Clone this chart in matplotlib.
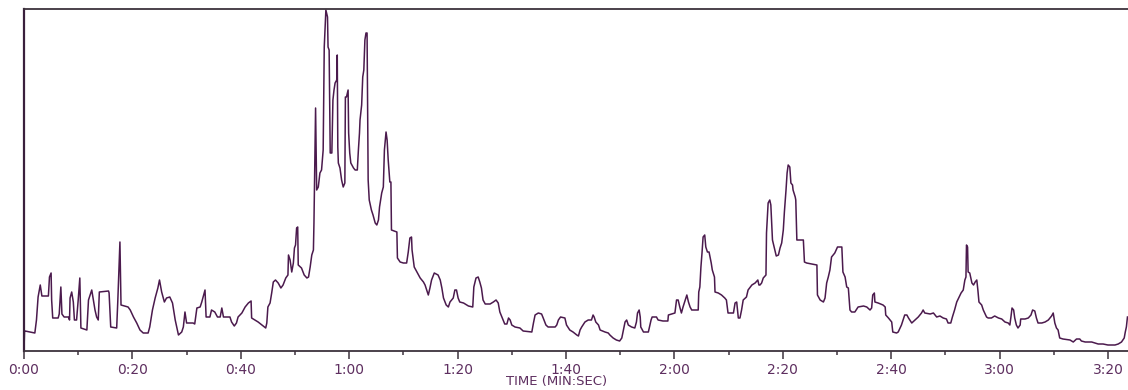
import matplotlib
matplotlib.use('Agg')
import matplotlib.pyplot as plt
from matplotlib.ticker import MultipleLocator, FuncFormatter

# time in seconds, level in arbitrary units
t_sec = [0, 0.1, 0.2, 2.0, 2.3, 2.6, 3.0, 3.3, 4.5, 4.7, 5.0, 5.1, 5.3, 6.3, 6.5, 6.8, 7.0, 7.4, 8.2,
         8.4, 8.5, 8.8, 9.1, 9.3, 9.7, 10.0, 10.3, 10.5, 11.6, 11.9, 12.2, 12.5, 12.8, 13.1, 13.4, 13.7,
         13.9, 15.6, 15.7, 16.0, 17.1, 17.3, 17.7, 17.9, 19.2, 19.6, 20.2, 20.8, 21.4, 22.0, 22.9, 23.2,
         23.7, 24.2, 24.7, 25.0, 25.4, 25.9, 26.3, 26.9, 27.4, 27.9, 28.5, 29.1, 29.4, 29.7, 30.0, 31.2,
         31.5, 31.9, 32.5, 32.8, 33.3, 33.4, 33.6, 34.3, 34.6, 35.2, 35.7, 36.2, 36.5, 36.8, 38.0, 38.3,
         38.8, 39.2, 39.5, 40.2, 40.8, 41.4, 41.9, 42.0, 42.6, 43.2, 43.9, 44.6, 44.8, 45.0, 45.4, 45.7,
         46.0, 46.4, 46.9, 47.4, 47.8, 48.3, 48.7, 48.8, 49.1, 49.4, 49.7, 49.9, 50.1, 50.3, 50.5, 50.6,
         51.2, 51.7, 52.2, 52.5, 52.8, 53.1, 53.4, 53.5, 53.8, 54.0, 54.3, 54.6, 54.9, 55.2, 55.4, 55.7,
         56.0, 56.1, 56.3, 56.5, 56.8, 57.0, 57.2, 57.4, 57.7, 57.8, 57.9, 58.0, 58.3, 58.6, 58.9, 59.2,
         59.3, 59.5, 59.8, 59.9, 60.1, 60.3, 60.8, 61.1, 61.5, 61.7, 61.9, 62.0, 62.3, 62.5, 62.7, 62.9,
         63.1, 63.3, 63.5, 63.7, 64.1, 64.4, 64.8, 65.1, 65.4, 65.6, 66.0, 66.3, 66.5, 66.8, 67.0, 67.2,
         67.5, 67.7, 67.8, 68.8, 68.9, 69.4, 70.0, 70.6, 70.9, 71.2, 71.5, 71.6, 72.0, 72.5, 73.1, 73.7,
         74.0, 74.3, 74.6, 74.9, 75.2, 75.7, 76.4, 76.8, 77.1, 77.4, 77.9, 78.3, 78.6, 79.2, 79.5, 79.8,
         80.1, 80.4, 81.1, 82.0, 82.8, 83.0, 83.4, 83.8, 84.1, 84.4, 84.7, 85.1, 86.0, 86.6, 87.1, 87.5,
         87.8, 88.4, 88.7, 89.1, 89.4, 89.7, 90.0, 90.6, 91.5, 92.1, 93.7, 94.0, 94.3, 94.9, 95.5, 95.8,
         96.3, 96.7, 98.0, 98.3, 98.6, 99.0, 99.8, 100.1, 100.7, 101.3, 102.0, 102.3, 102.6, 102.9, 103.5,
         104.1, 104.7, 105.0, 105.2, 105.5, 106.0, 106.3, 107.2, 107.8, 108.1, 108.7, 109.3, 109.9, 110.3,
         110.6, 110.9, 111.2, 111.5, 112.1, 112.7, 113.0, 113.2, 113.5, 113.7, 113.8, 114.3, 115.2, 115.7,
         115.9, 116.7, 117.0, 117.9, 118.8, 118.9, 120.1, 120.4, 120.7, 121.0, 121.3, 121.6, 122.0, 122.3,
         122.6, 122.9, 123.2, 124.4, 124.5, 124.7, 124.9, 125.1, 125.3, 125.6, 125.8, 126.1, 126.4, 126.8,
         127.0, 127.4, 127.5, 128.1, 128.7, 129.3, 129.6, 129.9, 130.9, 131.2, 131.5, 131.8, 132.1, 132.4,
         132.7, 133.3, 133.6, 134.3, 134.9, 135.4, 135.6, 135.8, 136.1, 136.4, 136.9, 137.0, 137.3, 137.6,
         137.8, 138.1, 138.4, 138.8, 139.2, 139.5, 139.8, 140.1, 140.3, 140.6, 140.8, 141.0, 141.3, 141.5,
         141.8, 141.9, 142.3, 142.4, 142.6, 143.8, 144.0, 144.4, 146.3, 146.4, 146.9, 147.5, 147.8, 148.1,
         148.4, 148.7, 149.0, 149.6, 150.1, 150.9, 151.1, 151.5, 151.8, 152.1, 152.4, 152.7, 153.3, 153.9,
         154.9, 155.5, 156.1, 156.4, 156.6, 156.9, 157.0, 157.6, 158.5, 158.9, 159.0, 159.5, 160.1, 160.3,
         161.0, 161.3, 161.9, 162.2, 162.5, 162.9, 163.2, 163.8, 164.4, 165.0, 165.6, 165.9, 166.2, 167.2,
         167.8, 168.4, 169.0, 169.6, 170.2, 170.5, 171.0, 171.3, 171.7, 172.1, 172.9, 173.3, 173.6, 173.8,
         173.9, 174.1, 174.2, 174.5, 174.9, 175.2, 175.5, 175.8, 176.0, 176.2, 176.7, 177.0, 177.6, 177.9,
         178.5, 179.1, 179.8, 180.4, 181.0, 181.6, 181.9, 182.1, 182.3, 182.6, 182.8, 183.1, 183.4, 183.8,
         183.9, 184.7, 185.3, 185.8, 186.1, 186.5, 186.8, 187.1, 187.8, 188.4, 189.0, 189.6, 189.9, 190.2,
         190.5, 190.8, 191.1, 191.7, 193.0, 193.6, 194.2, 194.8, 195.1, 195.8, 197.0, 197.6, 198.2, 199.1,
         200.0, 201.3, 201.9, 202.5, 203.0, 203.2, 203.4, 203.6]

level = [1, 20, 20, 18, 31, 54, 66, 55, 55, 74, 78, 51, 33, 33, 37, 64, 37, 34, 34,
         31, 53, 59, 49, 31, 31, 51, 73, 23, 21, 51, 56, 61, 51, 41, 34, 31,
         59, 60, 58, 24, 23, 49, 109, 46, 44, 41, 34, 28, 21, 18, 18, 24,
         41, 53, 63, 71, 59, 49, 53, 54, 48, 31, 16, 19, 24, 39, 28, 28,
         27, 43, 44, 49, 59, 61, 34, 34, 41, 39, 34, 34, 43, 34, 34, 29,
         25, 28, 34, 38, 44, 48, 50, 33, 31, 29, 26, 23, 28, 44, 48, 58,
         69, 71, 68, 63, 66, 73, 76, 96, 91, 79, 88, 103, 106, 123, 124, 86,
         83, 76, 73, 74, 84, 96, 101, 128, 243, 161, 164, 178, 181, 201, 304, 341,
         334, 304, 301, 198, 198, 251, 261, 268, 271, 296, 204, 188, 183, 171, 164, 168,
         254, 254, 261, 218, 198, 188, 183, 181, 181, 201, 218, 231, 246, 274, 281, 311,
         318, 318, 171, 151, 141, 136, 128, 126, 131, 144, 158, 164, 201, 219, 211, 191,
         169, 169, 121, 119, 93, 89, 88, 88, 99, 113, 114, 101, 84, 79, 73, 69,
         66, 61, 56, 63, 71, 78, 76, 71, 63, 53, 46, 44, 49, 53, 61, 61,
         53, 49, 48, 45, 44, 64, 73, 74, 69, 63, 51, 47, 47, 49, 51, 48,
         39, 31, 27, 27, 33, 31, 26, 24, 23, 20, 19, 28, 36, 38, 37, 33,
         26, 24, 24, 26, 31, 34, 33, 26, 21, 19, 16, 15, 21, 24, 29,
         31, 31, 36, 34, 29, 26, 21, 19, 18, 16, 13, 11, 10, 13,
         21, 29, 31, 26, 24, 23, 29, 38, 41, 34, 24, 19, 19, 31,
         34, 34, 31, 30, 30, 36, 38, 51, 51, 44, 38, 44, 51, 56,
         49, 44, 41, 41, 59, 64, 84, 98, 114, 116, 104, 99, 99, 88,
         81, 74, 59, 58, 56, 53, 51, 38, 38, 48, 49, 33, 33, 41,
         51, 54, 61, 66, 68, 71, 66, 66, 68, 73, 76, 118, 148, 151,
         146, 111, 104, 95, 96, 103, 108, 121, 139, 161, 178, 186, 184, 168,
         166, 161, 154, 151, 111, 111, 89, 88, 86, 56, 51, 49, 53, 68,
         74, 81, 94, 98, 104, 104, 79, 74, 64, 63, 41, 39, 39, 44,
         45, 44, 41, 43, 56, 58, 49, 48, 46, 44, 36, 33, 29, 19,
         18, 19, 26, 31, 36, 36, 33, 28, 31, 34, 38, 41, 38, 37,
         38, 34, 35, 33, 32, 28, 28, 34, 41, 49, 58, 61, 71, 74,
         106, 104, 79, 78, 68, 66, 69, 71, 61, 49, 46, 41, 34, 33,
         33, 35, 33, 32, 29, 28, 26, 34, 43, 41, 33, 26, 23, 26,
         32, 32, 33, 36, 41, 40, 33, 28, 28, 29, 31, 35, 38, 28,
         23, 21, 13, 12, 11, 9, 12, 12, 10, 9, 9, 8, 7, 7,
         6, 6, 7, 9, 13, 19, 24, 34]

line_color = '#4b1a4d'
label_color = '#5e2f60'
axis_color = '#3d333d'


def mmss(x, pos):
    x = int(round(x))
    return '%d:%02d' % (x // 60, x % 60)


fig = plt.figure(figsize=(11.28, 3.90), dpi=100)
ax = fig.add_axes([24 / 1128, 39 / 390, 1 - 24 / 1128, 342 / 390])

ax.plot(t_sec, level, color=line_color, lw=1.1)

ax.set_xlim(0, 203.7)
ax.set_ylim(0, 342)

ax.spines['right'].set_visible(False)
ax.spines['left'].set_color('#3a1f3c')
ax.spines['left'].set_linewidth(1.6)
ax.spines['top'].set_color(axis_color)
ax.spines['top'].set_linewidth(1.3)
ax.spines['bottom'].set_color(axis_color)
ax.spines['bottom'].set_linewidth(1.3)

ax.xaxis.set_major_locator(MultipleLocator(20))
ax.xaxis.set_minor_locator(MultipleLocator(10))
ax.xaxis.set_major_formatter(FuncFormatter(mmss))
ax.tick_params(axis='x', which='major', length=6, width=1.1, color=axis_color,
               labelcolor=label_color, labelsize=10, pad=3)
ax.tick_params(axis='x', which='minor', length=3, width=1.1, color=axis_color)
ax.set_yticks([])

fig.text(557 / 1128, 1 - 382 / 390, 'TIME (MIN:SEC)', ha='center', va='center',
         fontsize=9.5, color=label_color)

fig.savefig('out.png', dpi=100)
